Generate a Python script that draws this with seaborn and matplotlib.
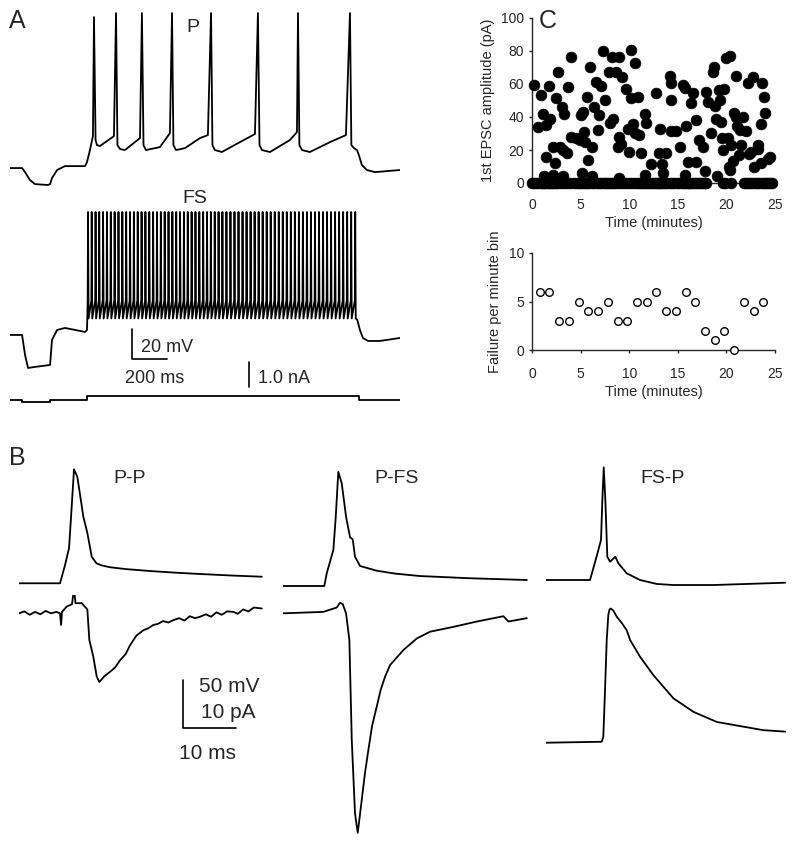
import numpy as np
import pandas as pd
import matplotlib
matplotlib.use('Agg')
import matplotlib.pyplot as plt
import seaborn as sns

# ── Panel A: firing patterns (time in ms, membrane potential in mV) ─────────
P_T = [0, 69, 86, 114, 143, 217, 229, 240, 269, 314, 429, 440, 457, 474, 480, 489, 497, 514,
       594, 606, 614, 629, 657, 743, 754, 763, 777, 857, 914, 926, 934, 949, 1000, 1086, 1131,
       1149, 1157, 1171, 1211, 1314, 1400, 1417, 1426, 1440, 1486, 1600, 1640, 1646, 1654,
       1669, 1714, 1829, 1920, 1943, 1951, 1966, 1983, 1994, 2011, 2040, 2086, 2229]
P_V = [-70, -70, -72.7, -78, -80.7, -81.3, -80.7, -76.7, -71.3, -68.7, -68.7, -66, -58, -48.7,
       30.7, -51.3, -54.7, -55.3, -48.7, 33.4, -54.7, -57.3, -58, -50, 33.4, -54.7, -58, -56,
       -46.7, 33.4, -54.7, -58, -56.7, -50, -48, 33.4, -54.7, -58, -59.3, -52.7, -47.3, 33.4,
       -54.7, -58, -59.3, -51.3, -46, 33.4, -54.7, -58, -59.3, -52.7, -48, 33.4, -54.7, -56.7,
       -58, -61.3, -68, -71.3, -72.7, -71.3]

FS_PRE_T = [0, 69, 86, 103, 143, 229, 240, 269, 314, 429, 440]
FS_PRE_V = [-70, -70, -83.3, -92, -91.3, -90, -73.3, -66.7, -65.3, -68, -66.7]
FS_SPIKES = [446, 467, 489, 510, 532, 554, 576, 598, 620, 642, 664, 686, 708, 730, 752, 774,
             796, 818, 840, 862, 884, 906, 928, 950, 972, 994, 1016, 1038, 1060, 1082, 1104,
             1126, 1148, 1170, 1192, 1214, 1237, 1260, 1283, 1306, 1329, 1352, 1375, 1398,
             1421, 1444, 1467, 1490, 1513, 1536, 1559, 1582, 1605, 1628, 1651, 1674, 1697,
             1720, 1743, 1766, 1789, 1812, 1835, 1858, 1881, 1904, 1927, 1950, 1973]
FS_PEAK, FS_TROUGH, FS_THRESH = 12, -59, -47
FS_POST_T = [1985, 2000, 2017, 2046, 2114, 2229]
FS_POST_V = [-60, -66.7, -72, -74, -74, -72]

I_T = [0, 69, 69, 229, 229, 440, 440, 1994, 1994, 2229]
I_NA = [0, 0, -0.07, -0.07, 0, 0, 0.17, 0.17, 0, 0]

# ── Panel B: unitary connections (ms; mV for presynaptic, pA for postsynaptic) ──
PP_PRE_T = [0, 7.69, 8.63, 9.38, 9.75, 10.31, 10.93, 12.06, 12.81, 13.63, 14.51, 15.5, 17.06,
            20, 24.56, 29, 33.94, 40, 45.5]
PP_PRE_V = [-70, -70, -51.1, -33.5, -1.4, 48, 40.3, -1.1, -17.9, -42.5, -49.3, -51.5, -53.4,
            -55.3, -57.3, -58.9, -60.4, -62, -63.2]
PP_POST_T = [0, 1, 2, 3, 4, 5, 6, 7, 7.69, 7.88, 8.06, 8.94, 9.94, 10.31, 10.59, 11.76, 12.81,
             13.18, 13.93, 14.57, 15.06, 16, 17.06, 18, 18.94, 20, 20.81, 22, 23.31, 24.2,
             25.19, 26, 27, 28, 28.94, 30, 31, 32, 33, 33.94, 35, 36, 37, 38, 39, 40.19, 41,
             42, 43, 44, 45.5]
PP_POST_PA = [0, 0.4, -0.3, 0.3, -0.2, 0.5, 0, 0.3, 0, -2.4, 0.3, 1.4, 1.9, 5.2, 2.1, 2.1, 0.8,
              -5.5, -9.0, -13.1, -14.2, -13.0, -12.1, -11.2, -9.7, -8.4, -6.6, -4.6, -3.5,
              -3.1, -2.4, -2.2, -1.6, -1.9, -1.4, -1.0, -1.5, -0.6, -1.0, -0.7, -0.2, -0.7,
              0.2, -0.3, 0.4, 0.3, -0.1, 0.8, 0.4, 1.2, 1.0]

PF_PRE_T = [0, 7.69, 8.14, 9.38, 9.83, 10.31, 10.95, 11.76, 12.51, 13.01, 13.44, 14.38, 17.51,
            21, 25.63, 35.01, 45.64]
PF_PRE_V = [-70, -70, -56.9, -32.7, 1.7, 48.3, 36.3, 1.7, -19.6, -21.7, -39.7, -49.3, -54.2,
            -57.2, -59.7, -62.0, -63.8]
PF_POST_T = [0, 7.5, 10.01, 10.63, 11.14, 11.76, 12.38, 12.83, 13.44, 13.95, 14.7, 15.32, 15.94,
             16.63, 17.51, 18.23, 19.07, 20.01, 22.5, 25.01, 27.51, 31.88, 36.26, 41.25, 42.19,
             45.64]
PF_POST_PA = [0, 0.3, 1.2, 2.2, 1.9, 0, -5.5, -26.2, -41.4, -45.4, -38.6, -32.9, -28.3, -23.3,
              -19.3, -15.9, -13.1, -10.7, -7.6, -5.2, -3.8, -2.8, -1.7, -0.6, -1.7, -1.0]

FP_PRE_T = [0, 8.25, 8.87, 9.81, 10.31, 10.56, 10.82, 11.12, 11.49, 12.0, 12.99, 13.56, 15.13,
            17.63, 20.76, 23.87, 31.37, 44.81]
FP_PRE_V = [-70, -70, -57.9, -39, -28.6, 12.8, 46.6, 12.8, -45.9, -51.1, -45.9, -52.7, -63.1,
            -70, -74.1, -75.2, -75.2, -72.8]
FP_POST_T = [0, 10.44, 10.74, 11.06, 11.38, 11.68, 11.9, 12.13, 12.6, 13.26, 14.2, 15.13, 15.75,
             17.63, 20.12, 23.87, 27.62, 32.01, 37.63, 40.74, 44.81]
FP_POST_PA = [0, 0.2, 1.2, 10.9, 21.3, 26.5, 27.6, 27.8, 27.4, 26.1, 24.8, 23.3, 21.3, 17.8,
              14.0, 9.2, 6.4, 4.3, 3.2, 2.6, 2.3]

# ── Panel C: 1st EPSC amplitude over time ───────────────────────────────────
EPSC_MIN = [0.2, 0.9, 0.66, 1.1, 1.4, 1.76, 1.9, 1.4, 2.2, 2.4, 2.5, 2.7, 2.9, 3.1, 3.3, 3.2,
            3.55, 3.7, 4.0, 4.0, 4.5, 4.9, 5.0, 5.2, 5.4, 5.5, 5.8, 5.7, 6.0, 6.2, 6.4, 6.6,
            6.8, 6.9, 7.1, 7.5, 7.3, 8.0, 8.3, 7.9, 8.2, 8.6, 9.0, 9.3, 8.8, 9.2, 9.0, 9.7,
            9.9, 10.0, 10.2, 10.2, 10.4, 10.6, 10.6, 10.9, 11.2, 11.0, 11.6, 11.7, 12.2, 12.8,
            13.1, 13.2, 13.4, 13.8, 14.2, 14.3, 14.3, 14.3, 14.8, 15.2, 15.5, 15.7, 15.8, 16.0,
            16.4, 16.6, 16.9, 16.9, 17.2, 17.6, 17.8, 17.9, 18.1, 18.4, 18.6, 18.7, 18.8, 19.0,
            18.9, 19.2, 19.3, 19.4, 19.5, 19.7, 19.8, 20.0, 20.4, 20.3, 20.2, 20.5, 20.4, 20.7,
            20.8, 21.0, 21.0, 21.1, 21.3, 21.4, 21.5, 21.7, 22.0, 22.2, 22.3, 22.5, 22.7, 22.8,
            23.3, 23.3, 23.6, 23.6, 23.7, 23.9, 24.0, 24.3, 24.5,
            5.1, 11.6, 13.5, 15.7, 6.2, 2.2, 1.2, 3.2, 8.9]
EPSC_PA = [59.4, 53.3, 34, 42, 35, 58.8, 39, 16, 22, 12, 51.7, 67.5, 22, 46, 42, 20,
           18, 58, 76.6, 28, 27, 26, 41, 43, 31, 25, 14, 52, 70, 22, 46, 61,
           32, 41, 59, 50, 80, 36.6, 38.6, 67.5, 76.6, 67.5, 76.6, 64.4, 22, 23.6, 28, 56.8,
           33, 19, 80.6, 51.3, 35.8, 72.5, 30, 52.3, 18.4, 29, 41.6, 36.6, 11.5, 54.3,
           18.4, 33, 11.3, 18, 65, 60.4, 50.3, 31.5, 31.5, 22, 59.4, 57.4, 34.5, 13,
           48.3, 54.3, 38.2, 13, 26, 22, 7, 55.4, 49.3, 30, 67.5, 70.5, 46.7, 4,
           39, 56.4, 50.3, 37, 27, 20, 56.8, 76, 77, 10, 27, 23, 8, 13.3,
           42.2, 40, 65, 34.5, 17, 32, 23, 40, 31.7, 60.4, 17.6, 19, 64.4, 10,
           20.4, 23, 36, 12.3, 60.4, 52.3, 42.2, 14.3, 16,
           6, 5, 6, 5, 4, 5, 4, 4, 3]
FAIL_MIN = [0.05, 0.25, 0.45, 0.65, 0.9, 1.05, 1.2, 1.35, 1.5, 1.7, 1.9, 2.05, 2.2, 2.35, 2.5,
            2.7, 2.95, 3.25, 3.6, 3.95, 4.3, 4.6, 4.85, 5.05, 5.25, 5.45, 5.65, 5.9, 6.15, 6.4,
            6.65, 6.9, 7.15, 7.4, 7.65, 7.85, 8.05, 8.25, 8.45, 8.65, 8.95, 9.25, 9.55, 9.9,
            10.2, 10.5, 10.85, 11.05, 11.25, 11.45, 11.65, 11.85, 12.05, 12.25, 12.45, 12.65,
            12.85, 13.0, 13.15, 13.3, 13.5, 13.7, 13.9, 14.15, 14.4, 14.65, 14.9, 15.15, 15.4,
            15.65, 15.85, 16.0, 16.15, 16.3, 16.5, 16.7, 16.85, 17.05, 17.25, 17.45, 17.65,
            17.8, 17.95, 19.6, 19.9, 20.5, 21.85, 22.05, 22.25, 22.45, 22.65, 22.9, 23.15,
            23.4, 23.65, 23.85, 24.05, 24.25, 24.45, 24.7]

BIN_MIN = [0.8, 1.8, 2.8, 3.8, 4.8, 5.8, 6.8, 7.8, 8.8, 9.8, 10.8, 11.8, 12.8, 13.8, 14.8,
           15.8, 16.8, 17.8, 18.8, 19.8, 20.8, 21.8, 22.8, 23.8]
FAIL_PER_BIN = [6, 6, 3, 3, 5, 4, 4, 5, 3, 3, 5, 5, 6, 4, 4, 6, 5, 2, 1, 2, 0, 5, 4, 5]

# ── Style ───────────────────────────────────────────────────────────────────
sns.set_style('ticks')
plt.rcParams['font.family'] = ['Liberation Sans', 'DejaVu Sans']
plt.rcParams['axes.linewidth'] = 1.0

W, H = 795, 843
fig = plt.figure(figsize=(W / 100, H / 100), dpi=100)
LW = 1.3


def box(x0, x1, y0, y1):
    # pixel box (top-left origin) -> axes
    return fig.add_axes([x0 / W, 1 - y1 / H, (x1 - x0) / W, (y1 - y0) / H])


def label(x, y, s, size, ha='left'):
    fig.text(x / W, 1 - y / H, s, fontsize=size, ha=ha, va='baseline')


def trace(ax, t, v, xlim, ylim):
    sns.lineplot(x=t, y=v, ax=ax, sort=False, estimator=None, color='black', lw=LW)
    ax.set_xlim(*xlim)
    ax.set_ylim(*ylim)
    ax.set_axis_off()


# ── A ───────────────────────────────────────────────────────────────────────
ax_p = box(10, 400, 0, 200)
trace(ax_p, P_T, P_V, (0, 2229), (-91.3, 42.1))

fs_t, fs_v = list(FS_PRE_T), list(FS_PRE_V)
for s in FS_SPIKES:
    fs_t += [s - 2, s, s + 3]
    fs_v += [FS_THRESH, FS_PEAK, FS_TROUGH]
fs_t += FS_POST_T
fs_v += FS_POST_V
ax_fs = box(10, 400, 200, 390)
trace(ax_fs, fs_t, fs_v, (0, 2229), (-106.7, 20.0))
# 20 mV / 200 ms scale bar
ax_fs.plot([695, 695, 895], [-66, -86, -86], color='black', lw=1.2, clip_on=False)

ax_i = box(10, 400, 355, 410)
trace(ax_i, I_T, I_NA, (0, 2229), (-0.4, 1.8))
ax_i.plot([1367, 1367], [0.52, 1.52], color='black', lw=1.2)

label(17, 28, 'A', 18, ha='center')
label(193, 32, 'P', 14, ha='center')
label(195, 203, 'FS', 14, ha='center')
label(141, 352, '20 mV', 13)
label(155, 383, '200 ms', 13, ha='center')
label(258, 383, '1.0 nA', 13)

# ── B ───────────────────────────────────────────────────────────────────────
ax = box(19, 265, 455, 600)
trace(ax, PP_PRE_T, PP_PRE_V, (0, 46.1), (-87.3, 62.8))
ax = box(19, 265, 595, 770)
trace(ax, PP_POST_T, PP_POST_PA, (0, 46.1), (-32.4, 3.79))
# 50 mV / 10 pA / 10 ms scale bar
ax.plot([30.7, 30.7, 40.7], [-13.8, -23.8, -23.8], color='black', lw=1.2)

ax = box(283.3, 529.3, 455, 600)
trace(ax, PF_PRE_T, PF_PRE_V, (0, 46.1), (-84.5, 65.6))
ax = box(283.3, 529.3, 595, 843)
trace(ax, PF_POST_T, PF_POST_PA, (0, 46.1), (-47.5, 3.79))

ax = box(546, 792, 455, 600)
trace(ax, FP_PRE_T, FP_PRE_V, (0, 46.1), (-90.7, 59.4))
ax = box(546, 792, 595, 760)
trace(ax, FP_POST_T, FP_POST_PA, (0, 46.1), (-3.58, 30.6))

label(17, 465, 'B', 18, ha='center')
label(130, 483, 'P-P', 14, ha='center')
label(397, 483, 'P-FS', 14, ha='center')
label(663, 483, 'FS-P', 14, ha='center')
label(199, 692, '50 mV', 15)
label(201, 718, '10 pA', 15)
label(179, 759, '10 ms', 15)

# ── C ───────────────────────────────────────────────────────────────────────
def style_c(ax, xpad):
    ax.tick_params(axis='both', direction='out', length=2.2, width=1.0, labelsize=10)
    ax.tick_params(axis='x', pad=xpad)
    ax.tick_params(axis='y', pad=3.5)
    sns.despine(ax=ax)


ax_c1 = box(532, 775, 18, 183)
sns.scatterplot(x=EPSC_MIN, y=EPSC_PA, ax=ax_c1, s=60, color='black', edgecolor='black',
                linewidth=0.5, clip_on=False, zorder=3)
sns.scatterplot(x=FAIL_MIN, y=[0] * len(FAIL_MIN), ax=ax_c1, s=60, color='black',
                edgecolor='black', linewidth=0.5, clip_on=False, zorder=3)
ax_c1.set_xlim(0, 25)
ax_c1.set_ylim(0, 100)
ax_c1.set_xticks(range(0, 26, 5))
ax_c1.set_yticks(range(0, 101, 20))
style_c(ax_c1, 8.3)
ax_c1.set_xlabel('Time (minutes)', fontsize=10.5, labelpad=3)
ax_c1.set_ylabel('1st EPSC amplitude (pA)', fontsize=10.5, labelpad=4)

ax_c2 = box(532, 775, 253, 350)
sns.scatterplot(x=BIN_MIN, y=FAIL_PER_BIN, ax=ax_c2, s=30, facecolor='white',
                edgecolor='black', linewidth=1.0, clip_on=False, zorder=3)
ax_c2.set_xlim(0, 25)
ax_c2.set_ylim(0, 10)
ax_c2.set_xticks(range(0, 26, 5))
ax_c2.set_yticks([0, 5, 10])
style_c(ax_c2, 9.8)
ax_c2.set_xlabel('Time (minutes)', fontsize=10.5, labelpad=3)
ax_c2.set_ylabel('Failure per minute bin', fontsize=10.5, labelpad=5)

label(548, 28, 'C', 18, ha='center')

fig.savefig('out.png', dpi=100, facecolor='white')
